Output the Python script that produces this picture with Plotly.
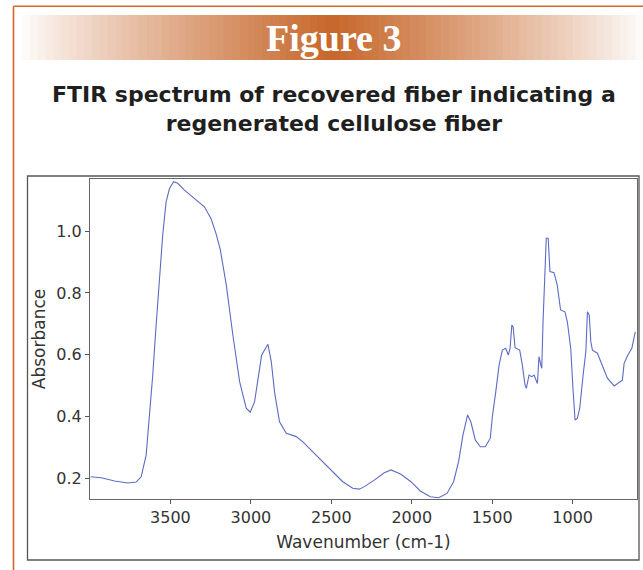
import plotly.graph_objects as go

# ---- data ----
wavenumber = [3996, 3930, 3847, 3765, 3713, 3682, 3651, 3630, 3610, 3589, 3568, 3548, 3527, 3506,
              3480, 3455, 3413, 3351, 3289, 3248, 3217, 3190, 3153, 3112, 3070, 3029, 3004, 2977,
              2950, 2933, 2894, 2873, 2853, 2822, 2780, 2718, 2677, 2594, 2512, 2429, 2367, 2326,
              2295, 2233, 2171, 2129, 2067, 2005, 1947, 1885, 1833, 1781, 1740, 1709, 1682, 1653,
              1633, 1605, 1574, 1543, 1512, 1499, 1478, 1457, 1437, 1416, 1400, 1389, 1378, 1370,
              1358, 1329, 1313, 1296, 1288, 1271, 1254, 1240, 1219, 1209, 1198, 1192, 1184, 1172,
              1164, 1152, 1141, 1116, 1096, 1075, 1048, 1033, 1012, 998, 985, 971, 956, 935, 918,
              908, 897, 887, 877, 846, 815, 784, 742, 711, 691, 680, 660, 632, 611]
absorbance = [0.205, 0.202, 0.191, 0.185, 0.188, 0.205, 0.275, 0.405, 0.534, 0.696, 0.858, 0.988,
              1.095, 1.138, 1.160, 1.155, 1.133, 1.106, 1.079, 1.041, 0.993, 0.940, 0.826, 0.664,
              0.513, 0.427, 0.414, 0.448, 0.545, 0.599, 0.634, 0.577, 0.480, 0.383, 0.346, 0.335,
              0.318, 0.275, 0.232, 0.189, 0.168, 0.165, 0.173, 0.194, 0.218, 0.227, 0.213, 0.189,
              0.159, 0.140, 0.137, 0.151, 0.189, 0.254, 0.340, 0.405, 0.383, 0.324, 0.302, 0.302,
              0.330, 0.400, 0.480, 0.567, 0.615, 0.621, 0.599, 0.621, 0.696, 0.690, 0.623, 0.615,
              0.567, 0.502, 0.491, 0.534, 0.529, 0.534, 0.507, 0.594, 0.567, 0.556, 0.707, 0.880,
              0.977, 0.977, 0.869, 0.866, 0.826, 0.745, 0.739, 0.707, 0.621, 0.491, 0.389, 0.394,
              0.427, 0.534, 0.610, 0.739, 0.728, 0.642, 0.615, 0.605, 0.567, 0.524, 0.499, 0.509,
              0.518, 0.572, 0.596, 0.621, 0.674]
x_ticks = [3500, 3000, 2500, 2000, 1500, 1000]
y_ticks = [0.2, 0.4, 0.6, 0.8, 1.0]

banner_text = "Figure 3"
title_text = "FTIR spectrum of recovered fiber indicating a<br>regenerated cellulose fiber"

# ---- layout geometry (pixels) ----
W, H = 643, 570
PL, PR, PT, PB = 90, 637, 179, 499


def px(x):
    return (x - PL) / (PR - PL)


def py(y):
    return (PB - y) / (PB - PT)


fig = go.Figure()
fig.add_trace(go.Scatter(x=wavenumber, y=absorbance, mode="lines",
                         line=dict(color="#5E6BC4", width=1.1), showlegend=False,
                         hoverinfo="skip"))

shapes = []
# banner gradient
c_edge = (255, 255, 255)
c_mid = (199, 104, 44)
x_start, x_end, x_center = 22, 643, 333
n = 80
for i in range(n):
    a = x_start + (x_end - x_start) * i / n
    b = x_start + (x_end - x_start) * (i + 1) / n + 0.6
    m = (a + b) / 2
    if m < x_center:
        t = (m - x_start) / (x_center - x_start)
    else:
        t = (x_end - m) / (x_end - x_center)
    t = max(0.0, min(1.0, t)) ** 0.85
    col = tuple(int(c_edge[k] + (c_mid[k] - c_edge[k]) * t) for k in range(3))
    shapes.append(dict(type="rect", xref="paper", yref="paper",
                       x0=px(a), x1=px(b), y0=py(60), y1=py(15),
                       fillcolor="rgb(%d,%d,%d)" % col, line=dict(width=0), layer="below"))
# orange frame lines
shapes.append(dict(type="line", xref="paper", yref="paper", x0=px(13.5), x1=px(13.5),
                   y0=py(6.3), y1=py(575), line=dict(color="#D2692A", width=1.6)))
shapes.append(dict(type="line", xref="paper", yref="paper", x0=px(13.5), x1=px(650),
                   y0=py(6.3), y1=py(6.3), line=dict(color="#D2692A", width=1.6)))
# outer grey box
shapes.append(dict(type="rect", xref="paper", yref="paper", x0=px(27.5), x1=px(639),
                   y0=py(560), y1=py(176), line=dict(color="#555555", width=1.3)))

fig.update_layout(
    width=W, height=H,
    margin=dict(l=PL, r=W - PR, t=PT, b=H - PB, pad=0),
    paper_bgcolor="white", plot_bgcolor="white",
    shapes=shapes,
    font=dict(family="DejaVu Sans, sans-serif", color="#333333"),
    annotations=[
        dict(text="<b>" + banner_text + "</b>", xref="paper", yref="paper", x=px(333), y=py(38),
             showarrow=False, xanchor="center", yanchor="middle",
             font=dict(family="Liberation Serif, serif", size=38, color="white"),
             ),
        dict(text="<b>" + title_text + "</b>", xref="paper", yref="paper",
             x=px(334), y=py(109), showarrow=False, xanchor="center", yanchor="middle",
             font=dict(family="DejaVu Sans, sans-serif", size=22, color="#1f1f1f"),
             align="center"),
    ],
    xaxis=dict(range=[4000, 600], tickvals=x_ticks, ticks="outside", ticklen=4,
               tickcolor="#555555", showline=True, linecolor="#666666", linewidth=1,
               mirror=True, showgrid=False, zeroline=False,
               tickfont=dict(size=16, color="#333333"),
               title=dict(text="Wavenumber (cm-1)", font=dict(size=17, color="#333333"),
                          standoff=9)),
    yaxis=dict(range=[0.133, 1.169], tickvals=y_ticks, tickformat=".1f", ticks="outside",
               ticklen=4, tickcolor="#555555", showline=True, linecolor="#666666",
               linewidth=1, mirror=True, showgrid=False, zeroline=False,
               tickfont=dict(size=16, color="#333333"),
               title=dict(text="Absorbance", font=dict(size=17, color="#333333"),
                          standoff=6)),
)

fig.write_html("out.html", config={"displayModeBar": False},
               post_script="document.body.style.margin='0';"
                           "document.documentElement.style.overflow='hidden';")
